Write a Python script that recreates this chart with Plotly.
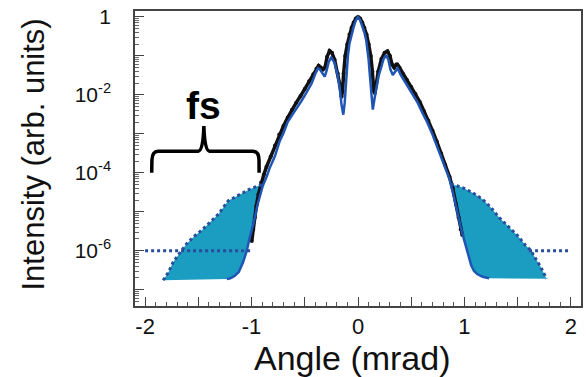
import plotly.graph_objects as go

# --- simulated profile (solid blue): angle [mrad], log10 intensity ---
sim_x = [-1.232, -1.20, -1.16, -1.12, -1.08, -1.045, -1.017, -0.98, -0.942, -0.895,
         -0.858, -0.83, -0.78, -0.736, -0.70, -0.661, -0.61, -0.576, -0.53, -0.486,
         -0.436, -0.40, -0.377, -0.36, -0.335, -0.313, -0.295, -0.275, -0.251, -0.22,
         -0.195, -0.173, -0.155, -0.138, -0.125, -0.115, -0.105, -0.095, -0.08, -0.06,
         -0.04, -0.02, 0.0, 0.02, 0.04, 0.06, 0.077, 0.09, 0.10, 0.11,
         0.12, 0.13, 0.139, 0.155, 0.175, 0.195, 0.217, 0.24, 0.264, 0.285,
         0.305, 0.327, 0.35, 0.373, 0.40, 0.44, 0.483, 0.514, 0.56, 0.608,
         0.65, 0.70, 0.74, 0.78, 0.82, 0.858, 0.895, 0.933, 0.965, 0.999,
         1.03, 1.064, 1.09, 1.12, 1.17, 1.232]
sim_exp = [-6.73, -6.71, -6.65, -6.55, -6.30, -6.00, -5.66, -5.28, -4.80, -4.34,
           -4.10, -3.88, -3.57, -3.19, -2.98, -2.70, -2.48, -2.35, -2.15, -1.95,
           -1.71, -1.45, -1.32, -1.34, -1.45, -1.53, -1.38, -1.15, -1.04, -1.18,
           -1.45, -1.79, -2.25, -2.51, -2.20, -1.75, -1.30, -1.00, -0.68, -0.43,
           -0.25, -0.08, 0.0, -0.08, -0.22, -0.40, -0.60, -0.85, -1.10, -1.45,
           -1.85, -2.20, -2.38, -2.10, -1.75, -1.50, -1.30, -1.08, -0.98, -1.10,
           -1.35, -1.49, -1.40, -1.32, -1.48, -1.66, -1.86, -1.98, -2.20, -2.48,
           -2.70, -3.02, -3.30, -3.61, -3.88, -4.15, -4.55, -5.05, -5.40, -5.74,
           -6.05, -6.38, -6.52, -6.60, -6.67, -6.71]

# --- measured profile (black) ---
meas_x = [-0.998, -0.985, -0.97, -0.955, -0.935, -0.91, -0.885, -0.86, -0.82, -0.78,
          -0.74, -0.70, -0.66, -0.62, -0.58, -0.54, -0.50, -0.46, -0.42, -0.39,
          -0.37, -0.35, -0.33, -0.31, -0.29, -0.267, -0.245, -0.22, -0.19, -0.17,
          -0.155, -0.145, -0.135, -0.12, -0.10, -0.08, -0.06, -0.04, -0.02, 0.0,
          0.02, 0.04, 0.06, 0.08, 0.10, 0.12, 0.135, 0.148, 0.158, 0.17,
          0.19, 0.22, 0.25, 0.277, 0.30, 0.32, 0.34, 0.36, 0.37, 0.39,
          0.42, 0.46, 0.50, 0.54, 0.58, 0.62, 0.66, 0.70, 0.74, 0.78,
          0.82, 0.86, 0.89, 0.92, 0.945, 0.965, 0.98]
meas_exp = [-5.75, -5.45, -5.15, -4.85, -4.55, -4.25, -4.05, -3.85, -3.58, -3.30,
            -3.02, -2.80, -2.58, -2.38, -2.20, -2.03, -1.85, -1.65, -1.47, -1.32,
            -1.25, -1.30, -1.35, -1.30, -1.02, -0.87, -0.92, -1.10, -1.45, -1.75,
            -2.05, -1.90, -1.45, -1.00, -0.70, -0.45, -0.28, -0.14, -0.04, 0.0,
            -0.04, -0.14, -0.28, -0.45, -0.70, -1.00, -1.40, -1.90, -1.95, -1.70,
            -1.40, -1.08, -0.92, -0.88, -1.00, -1.22, -1.30, -1.22, -1.22, -1.30,
            -1.45, -1.62, -1.80, -1.98, -2.18, -2.42, -2.66, -2.92, -3.20, -3.50,
            -3.80, -4.10, -4.40, -4.80, -5.15, -5.45, -5.60]

# --- fs wings (dotted envelope), left and right ---
fsL_x = [-1.83, -1.78, -1.736, -1.673, -1.61, -1.53, -1.47, -1.39, -1.31, -1.22,
         -1.11, -1.017, -0.89]
fsL_exp = [-6.76, -6.55, -6.29, -6.04, -5.82, -5.61, -5.48, -5.27, -5.06, -4.72,
           -4.55, -4.42, -4.29]
fsR_x = [0.873, 0.982, 1.076, 1.17, 1.248, 1.326, 1.42, 1.498, 1.576, 1.623,
         1.67, 1.717, 1.764, 1.773]
fsR_exp = [-4.29, -4.38, -4.51, -4.68, -4.89, -5.15, -5.40, -5.61, -5.87, -5.99,
           -6.21, -6.42, -6.68, -6.72]

# noise floor (dotted horizontal)
floorL_x = [-2.0, -1.0]
floorR_x = [1.607, 2.0]
floor_exp = [-6.0, -6.0]

# axis ticks
xtick_vals = [-2, -1.5, -1, -0.5, 0, 0.5, 1, 1.5, 2]
xtick_text = ["-2", "", "-1", "", "0", "", "1", "", "2"]
ytick_exp = [0, -1, -2, -3, -4, -5, -6, -7]
ytick_text = ["1", "", "10<sup>-2</sup>", "", "10<sup>-4</sup>", "", "10<sup>-6</sup>", ""]


def lin(e):
    return [10 ** v for v in e]


BLUE = "#1f55b5"
DOT = "#2a4c9c"
CYAN = "#1b9dc2"
FONT = "Liberation Sans, Arial, sans-serif"

# cyan wing polygons: dotted envelope + simulated curve below it
simL = [(x, e) for x, e in zip(sim_x, sim_exp) if x <= fsL_x[-1]]
simR = [(x, e) for x, e in zip(sim_x, sim_exp) if x >= fsR_x[0]]
polyL_x = fsL_x + [p[0] for p in reversed(simL)] + [fsL_x[0]]
polyL_e = fsL_exp + [p[1] for p in reversed(simL)] + [fsL_exp[0]]
polyR_x = fsR_x + [p[0] for p in reversed(simR)] + [fsR_x[0]]
polyR_e = fsR_exp + [p[1] for p in reversed(simR)] + [fsR_exp[0]]

fig = go.Figure()
for px_, pe_ in ((polyL_x, polyL_e), (polyR_x, polyR_e)):
    fig.add_trace(go.Scatter(x=px_, y=lin(pe_), mode="lines", fill="toself",
                             fillcolor=CYAN, line=dict(width=0), hoverinfo="skip"))

fig.add_trace(go.Scatter(x=meas_x, y=lin(meas_exp), mode="lines+markers",
                         line=dict(color="#111111", width=3.5),
                         marker=dict(color="#111111", size=4)))
fig.add_trace(go.Scatter(x=sim_x, y=lin(sim_exp), mode="lines",
                         line=dict(color=BLUE, width=2.5)))

for xs, es in ((fsL_x, fsL_exp), (fsR_x, fsR_exp), (floorL_x, floor_exp), (floorR_x, floor_exp)):
    fig.add_trace(go.Scatter(x=xs, y=lin(es), mode="lines",
                             line=dict(color=DOT, width=3, dash="dot")))

minor_y = [m * 10 ** k for k in range(-8, 1) for m in range(2, 10)]

fig.update_layout(
    width=588, height=377,
    margin=dict(l=135, r=5, t=9, b=71),
    plot_bgcolor="white", paper_bgcolor="white",
    showlegend=False,
    font=dict(family=FONT, color="#111111"),
    xaxis=dict(range=[-2.095, 2.095], tickmode="array", tickvals=xtick_vals,
               ticktext=xtick_text, ticks="inside", ticklen=9, tickwidth=1,
               tickcolor="#444", showline=True, linecolor="#444", linewidth=1.5,
               mirror=True, showgrid=False, zeroline=False,
               tickfont=dict(size=22, family=FONT, color="#111"),
               minor=dict(dtick=0.1, ticks="inside", ticklen=4.5, tickcolor="#555",
                          showgrid=False)),
    yaxis=dict(type="log", range=[-7.42, 0.153], tickmode="array",
               tickvals=[10 ** e for e in ytick_exp], ticktext=ytick_text,
               ticks="inside", ticklen=9, tickwidth=1, tickcolor="#444",
               showline=True, linecolor="#444", linewidth=1.5, mirror=True,
               showgrid=False, zeroline=False, ticklabelstandoff=18,
               tickfont=dict(size=21, family=FONT, color="#111"),
               minor=dict(tickmode="array", tickvals=minor_y, ticks="inside",
                          ticklen=4.5, tickcolor="#666", showgrid=False)),
)

# axis titles
fig.add_annotation(text="Angle (mrad)", xref="paper", yref="paper", x=0.4866, y=-0.175,
                   showarrow=False, xanchor="center", yanchor="middle",
                   font=dict(size=34, family=FONT, color="#111"))
fig.add_annotation(text="Intensity (arb. units)", xref="paper", yref="paper", x=-0.2277,
                   y=0.515, textangle=-90, showarrow=False, xanchor="center",
                   yanchor="middle", font=dict(size=31, family=FONT, color="#111"))

# brace with "fs" label over the left wing
brace = ("M -1.938,0.452 L -1.936,0.495 Q -1.932,0.525 -1.88,0.525 L -1.50,0.525 "
         "Q -1.455,0.525 -1.448,0.61 Q -1.441,0.525 -1.396,0.525 L -0.99,0.525 "
         "Q -0.932,0.525 -0.930,0.495 L -0.929,0.452")
fig.add_shape(type="path", path=brace, xref="x", yref="paper",
              line=dict(color="#000", width=3.5))
fig.add_annotation(text="<b>fs</b>", xref="x", yref="paper", x=-1.448, y=0.68,
                   showarrow=False, xanchor="center", yanchor="middle",
                   font=dict(size=39, family=FONT, color="#000"))

fig.write_html("out.html")
